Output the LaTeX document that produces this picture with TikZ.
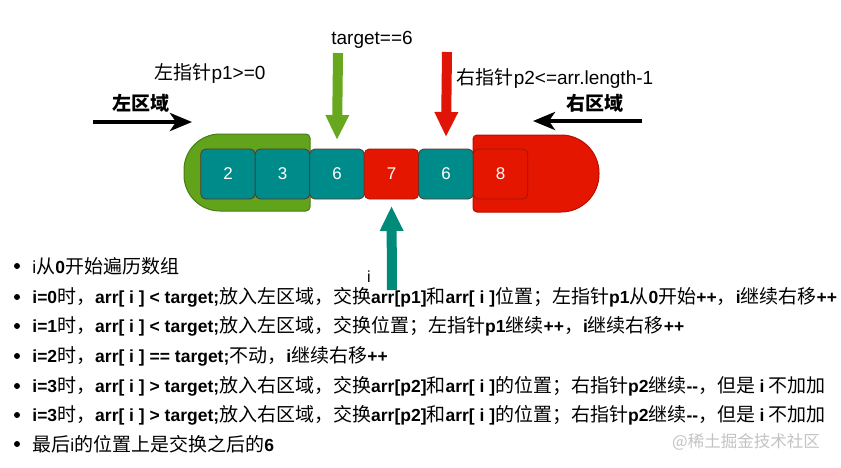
\documentclass[tikz,border=0pt]{standalone}
\usepackage{fontspec}
\setmainfont{Liberation Sans}
\newfontfamily\cjk{Noto Sans CJK SC}
\usetikzlibrary{positioning,arrows.meta}

\definecolor{cellteal}{RGB}{0,139,139}
\definecolor{cellred}{RGB}{228,22,0}
\definecolor{cellline}{RGB}{85,55,45}
\definecolor{redline}{RGB}{160,20,10}
\definecolor{zonegreen}{RGB}{98,163,28}
\definecolor{zonegreenline}{RGB}{70,125,20}
\definecolor{zonered}{RGB}{228,22,0}
\definecolor{zoneredline}{RGB}{185,12,0}
\definecolor{arrowgreen}{RGB}{104,168,30}
\definecolor{arrowred}{RGB}{225,20,8}
\definecolor{arrowteal}{RGB}{0,138,122}
\definecolor{marktext}{RGB}{195,195,195}

\newcommand{\zh}[1]{{\cjk\fontsize{19}{21}\selectfont #1}}
\newcommand{\en}[1]{{\bfseries #1}}

\begin{document}
\begin{tikzpicture}[x=1pt,y=-1pt,
  cell/.style={draw=cellline, line width=0.8pt, fill=cellteal, rounded corners=5pt,
    minimum width=54.5pt, minimum height=50pt, inner sep=0pt, outer sep=0pt,
    text=white, font=\fontsize{17}{20}\selectfont},
  redcell/.style={cell, fill=cellred, draw=redline},
  tag/.style={font=\fontsize{19}{22}\selectfont, inner sep=0pt},
  zonetag/.style={font=\fontsize{19}{22}\selectfont\cjk\bfseries, inner sep=0pt},
  row/.style={inner sep=0pt, font=\fontsize{17.5}{21}\selectfont},
  bulletdot/.style={circle, fill=black, inner sep=0pt, minimum size=6pt},
  pointer/.style={line width=10pt, -{Triangle[width=22pt,length=25pt]}},
  push/.style={line width=4pt, -{Stealth[width=18pt,length=22pt,inset=6pt]}}]

% Page
\fill[white] (0,0) rectangle (841,467);
\useasboundingbox (0,0) rectangle (841,467);

% Left zone
\filldraw[fill=zonegreen, draw=zonegreenline, line width=1pt]
  (220,134) -- (306,134) arc[start angle=-90, end angle=0, radius=4]
  -- (310,207) arc[start angle=0, end angle=90, radius=4]
  -- (220,211) arc[start angle=90, end angle=180, radius=36] -- (184,170)
  arc[start angle=180, end angle=270, radius=36] -- cycle;

% Right zone
\filldraw[fill=zonered, draw=zoneredline, line width=1pt]
  (561,135) -- (477,135) arc[start angle=-90, end angle=-180, radius=4]
  -- (473,208) arc[start angle=180, end angle=90, radius=4]
  -- (561,212) arc[start angle=90, end angle=0, radius=38] -- (599,173)
  arc[start angle=0, end angle=-90, radius=38] -- cycle;

% Array cells
\node[cell] (c1) at (228,174) {2};
\node[cell, right=0pt of c1] (c2) {3};
\node[cell, right=0pt of c2] (c3) {6};
\node[redcell, right=0pt of c3] (c4) {7};
\node[cell, right=0pt of c4] (c5) {6};
\node[redcell, right=0pt of c5] (c6) {8};

% Pointers
\coordinate (gtail) at (338,53);
\draw[pointer, arrowgreen] (gtail) -- ([yshift=9pt]c3.north);
\coordinate (rtail) at (447,52);
\draw[pointer, arrowred] (rtail) -- ([yshift=12pt]c5.north);
\coordinate (ttail) at (392,290);
\draw[pointer, arrowteal] (ttail) -- ([yshift=-7pt]c4.south);

% Zone arrows
\coordinate (ltail) at (93,122);
\coordinate (lhead) at (192,122);
\draw[push] (ltail) -- (lhead);
\coordinate (rtail2) at (642,121);
\coordinate (rhead) at (533,121);
\draw[push] (rtail2) -- (rhead);

% Labels
\node[tag] (tgt) at (372,40) {target==6};
\node[tag] (p1) at (210,73) {\zh{左指针}p1>=0};
\node[tag] (p2) at (555,78) {\zh{右指针}p2<=arr.length-1};
\node[zonetag] (lzone) at (141,103) {左区域};
\node[zonetag] (rzone) at (595,103) {右区域};
\node[font=\fontsize{16}{18}\selectfont, inner sep=0pt] (iname) at (369,277) {i};

% Steps
\foreach \n/\y in {1/266,2/297,3/326,4/356,5/386,6/415,7/444}
  \node[bulletdot] (d\n) at (17,\y) {};

\node[row, right=12pt of d1] (t1) {i\zh{从}\en{0}\zh{开始遍历数组}};
\node[row, right=12pt of d2] (t2) {\en{i=0}\zh{时，}\en{arr[ i ] < target;}\zh{放入左区域，交换}\en{arr[p1]}\zh{和}\en{arr[ i ]}\zh{位置；左指针}\en{p1}\zh{从}\en{0}\zh{开始}\en{++}\zh{，}\en{i}\zh{继续右移}\en{++}};
\node[row, right=12pt of d3] (t3) {\en{i=1}\zh{时，}\en{arr[ i ] < target;}\zh{放入左区域，交换位置；左指针}\en{p1}\zh{继续}\en{++}\zh{，}\en{i}\zh{继续右移}\en{++}};
\node[row, right=12pt of d4] (t4) {\en{i=2}\zh{时，}\en{arr[ i ] == target;}\zh{不动，}\en{i}\zh{继续右移}\en{++}};
\node[row, right=12pt of d5] (t5) {\en{i=3}\zh{时，}\en{arr[ i ] > target;}\zh{放入右区域，交换}\en{arr[p2]}\zh{和}\en{arr[ i ]}\zh{的位置；右指针}\en{p2}\zh{继续}\en{-{}-}\zh{，但是 }\en{i}\zh{ 不加加}};
\node[row, right=12pt of d6] (t6) {\en{i=3}\zh{时，}\en{arr[ i ] > target;}\zh{放入右区域，交换}\en{arr[p2]}\zh{和}\en{arr[ i ]}\zh{的位置；右指针}\en{p2}\zh{继续}\en{-{}-}\zh{，但是 }\en{i}\zh{ 不加加}};
\node[row, right=12pt of d7] (t7) {\zh{最后}i\zh{的位置上是交换之后的}\en{6}};

% Watermark
\node[font=\fontsize{16.5}{19}\selectfont\cjk, text=marktext, inner sep=0pt] (mark) at (746,442) {@稀土掘金技术社区};

\end{tikzpicture}
\end{document}
